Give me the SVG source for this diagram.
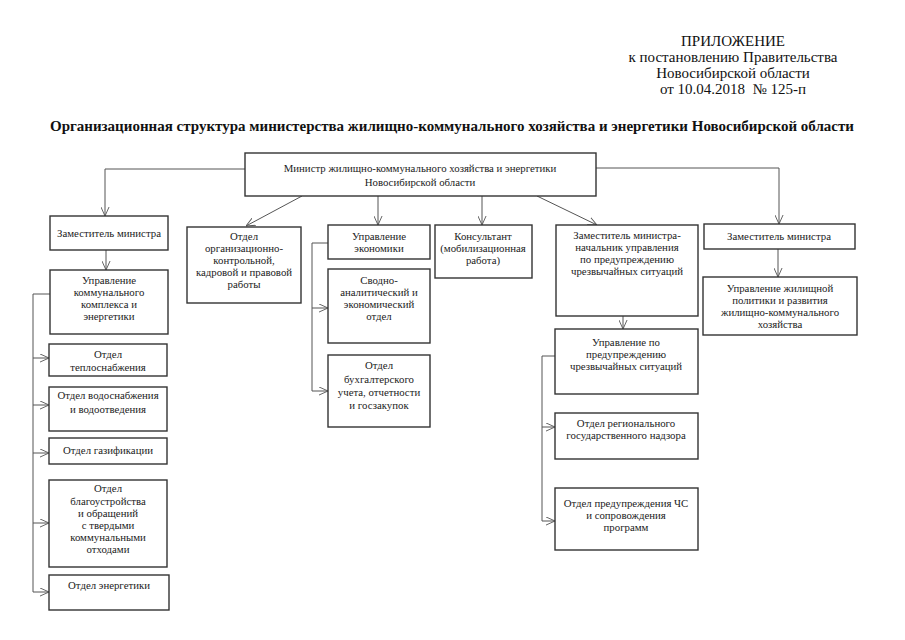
<svg xmlns="http://www.w3.org/2000/svg" width="905" height="640" viewBox="0 0 905 640" font-family="'Liberation Serif', 'DejaVu Serif', serif">
<style>
text{font-family:'Liberation Serif','DejaVu Serif',serif;fill:#111;}
.hd{font-size:15px;text-anchor:middle;}
.tt{font-size:15px;font-weight:bold;text-anchor:middle;}
.bx{fill:#fff;stroke:#333;stroke-width:1.4;}
.t{font-size:10.8px;text-anchor:middle;fill:#222;}
.c{fill:none;stroke:#555;stroke-width:1;}
</style>
<defs>
<marker id="arr" viewBox="0 0 10 10" refX="10" refY="5" markerWidth="9" markerHeight="9" orient="auto" markerUnits="userSpaceOnUse">
<path d="M0,0.5 L10,5 L0,9.5" fill="none" stroke="#555" stroke-width="1"/>
</marker>
</defs>
<rect width="905" height="640" fill="#fff"/>
<g id="header">
<text class="hd" x="733" y="46">ПРИЛОЖЕНИЕ</text>
<text class="hd" x="733" y="62">к постановлению Правительства</text>
<text class="hd" x="733" y="78">Новосибирской области</text>
<text class="hd" x="733" y="94" xml:space="preserve">от 10.04.2018  № 125-п</text>
<text class="tt" x="452" y="131">Организационная структура министерства жилищно-коммунального хозяйства и энергетики Новосибирской области</text>
</g>
<g id="connectors">
<path class="c" d="M245,169 H105 V216" marker-end="url(#arr)"/>
<path class="c" d="M596,168 H779 V224" marker-end="url(#arr)"/>
<path class="c" d="M302,196 L246,226" marker-end="url(#arr)"/>
<path class="c" d="M378,196 V225" marker-end="url(#arr)"/>
<path class="c" d="M482,196 V225" marker-end="url(#arr)"/>
<path class="c" d="M537,196 L597,225" marker-end="url(#arr)"/>
<path class="c" d="M106,250 V270" marker-end="url(#arr)"/>
<path class="c" d="M51,294 H33 V592"/>
<path class="c" d="M33,358 H49" marker-end="url(#arr)"/>
<path class="c" d="M33,405 H49" marker-end="url(#arr)"/>
<path class="c" d="M33,453 H49" marker-end="url(#arr)"/>
<path class="c" d="M33,523 H49" marker-end="url(#arr)"/>
<path class="c" d="M33,592 H49" marker-end="url(#arr)"/>
<path class="c" d="M328,243 H312 V391"/>
<path class="c" d="M312,308 H328" marker-end="url(#arr)"/>
<path class="c" d="M312,391 H328" marker-end="url(#arr)"/>
<path class="c" d="M623,316 V329" marker-end="url(#arr)"/>
<path class="c" d="M555,356 H542 V521"/>
<path class="c" d="M542,427 H555" marker-end="url(#arr)"/>
<path class="c" d="M542,521 H555" marker-end="url(#arr)"/>
<path class="c" d="M778,249 V277" marker-end="url(#arr)"/>
</g>
<g id="minister">
<rect class="bx" x="245" y="153" width="351" height="43"/>
<text class="t" x="420" y="172">Министр жилищно-коммунального хозяйства и энергетики</text>
<text class="t" x="420" y="186">Новосибирской области</text>
</g>
<g id="deputy-left">
<rect class="bx" x="50" y="216" width="118" height="34"/>
<text class="t" x="109" y="237">Заместитель министра</text>
</g>
<g id="upr-kommun">
<rect class="bx" x="50" y="270" width="118" height="64"/>
<text class="t" x="109" y="284">Управление</text>
<text class="t" x="109" y="296">коммунального</text>
<text class="t" x="109" y="308">комплекса и</text>
<text class="t" x="109" y="320">энергетики</text>
</g>
<g id="otd-teplo">
<rect class="bx" x="49" y="344" width="118" height="32"/>
<text class="t" x="108" y="358">Отдел</text>
<text class="t" x="108" y="371">теплоснабжения</text>
</g>
<g id="otd-vodo">
<rect class="bx" x="49" y="387" width="118" height="44"/>
<text class="t" x="108" y="399">Отдел водоснабжения</text>
<text class="t" x="108" y="413">и водоотведения</text>
</g>
<g id="otd-gaz">
<rect class="bx" x="49" y="438" width="118" height="26"/>
<text class="t" x="108" y="454">Отдел газификации</text>
</g>
<g id="otd-blago">
<rect class="bx" x="49" y="480" width="118" height="87"/>
<text class="t" x="108" y="492">Отдел</text>
<text class="t" x="108" y="505">благоустройства</text>
<text class="t" x="108" y="517">и обращений</text>
<text class="t" x="108" y="529">с твердыми</text>
<text class="t" x="108" y="541">коммунальными</text>
<text class="t" x="108" y="553">отходами</text>
</g>
<g id="otd-energ">
<rect class="bx" x="49" y="575" width="120" height="35"/>
<text class="t" x="109" y="589">Отдел энергетики</text>
</g>
<g id="otd-org">
<rect class="bx" x="187" y="227" width="114" height="76"/>
<text class="t" x="244" y="240">Отдел</text>
<text class="t" x="244" y="252">организационно-</text>
<text class="t" x="244" y="264">контрольной,</text>
<text class="t" x="244" y="276">кадровой и правовой</text>
<text class="t" x="244" y="288">работы</text>
</g>
<g id="upr-econ">
<rect class="bx" x="328" y="225" width="102" height="34"/>
<text class="t" x="379" y="240">Управление</text>
<text class="t" x="379" y="252">экономики</text>
</g>
<g id="otd-svod">
<rect class="bx" x="328" y="269" width="102" height="74"/>
<text class="t" x="379" y="284">Сводно-</text>
<text class="t" x="379" y="296">аналитический и</text>
<text class="t" x="379" y="308">экономический</text>
<text class="t" x="379" y="320">отдел</text>
</g>
<g id="otd-buh">
<rect class="bx" x="328" y="355" width="102" height="72"/>
<text class="t" x="379" y="369">Отдел</text>
<text class="t" x="379" y="383">бухгалтерского</text>
<text class="t" x="379" y="396">учета, отчетности</text>
<text class="t" x="379" y="409">и госзакупок</text>
</g>
<g id="konsultant">
<rect class="bx" x="435" y="225" width="97" height="53"/>
<text class="t" x="483" y="240">Консультант</text>
<text class="t" x="483" y="252">(мобилизационная</text>
<text class="t" x="483" y="264">работа)</text>
</g>
<g id="deputy-chs">
<rect class="bx" x="556" y="225" width="142" height="91"/>
<text class="t" x="627" y="239">Заместитель министра-</text>
<text class="t" x="627" y="251">начальник управления</text>
<text class="t" x="627" y="263">по предупреждению</text>
<text class="t" x="627" y="275">чрезвычайных ситуаций</text>
</g>
<g id="upr-chs">
<rect class="bx" x="555" y="329" width="143" height="65"/>
<text class="t" x="626" y="346">Управление по</text>
<text class="t" x="626" y="358">предупреждению</text>
<text class="t" x="626" y="370">чрезвычайных ситуаций</text>
</g>
<g id="otd-nadzor">
<rect class="bx" x="555" y="413" width="143" height="46"/>
<text class="t" x="626" y="427">Отдел регионального</text>
<text class="t" x="626" y="439">государственного надзора</text>
</g>
<g id="otd-chs">
<rect class="bx" x="555" y="488" width="143" height="62"/>
<text class="t" x="626" y="507">Отдел предупреждения ЧС</text>
<text class="t" x="626" y="519">и сопровождения</text>
<text class="t" x="626" y="531">программ</text>
</g>
<g id="deputy-right">
<rect class="bx" x="704" y="224" width="151" height="25"/>
<text class="t" x="779" y="240">Заместитель министра</text>
</g>
<g id="upr-zhil">
<rect class="bx" x="703" y="277" width="154" height="58"/>
<text class="t" x="780" y="292">Управление жилищной</text>
<text class="t" x="780" y="304">политики и развития</text>
<text class="t" x="780" y="316">жилищно-коммунального</text>
<text class="t" x="780" y="328">хозяйства</text>
</g>
</svg>
